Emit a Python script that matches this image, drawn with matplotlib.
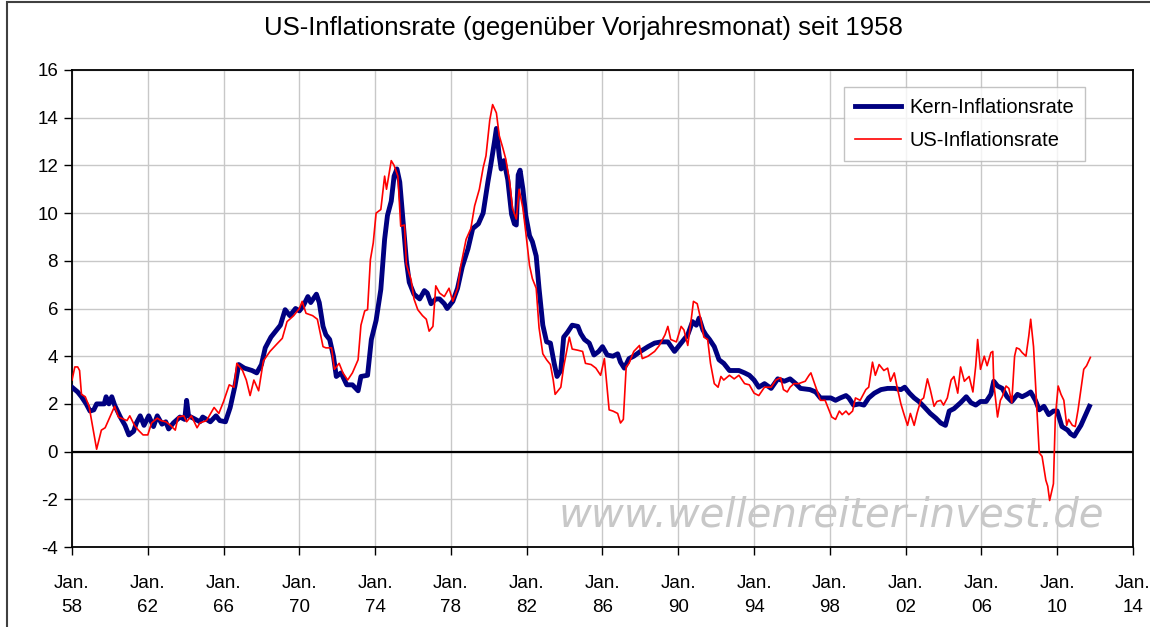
import matplotlib
matplotlib.use("Agg")
import matplotlib.pyplot as plt
from matplotlib.patches import Rectangle

plt.rcParams['font.family'] = ['Liberation Sans', 'DejaVu Sans']

# ---- data (decimal years, % yoy) ----
kern_t = [1958.0, 1958.15, 1958.3, 1958.5, 1958.75, 1958.95, 1959.15, 1959.3, 1959.7, 1959.8,
          1959.95, 1960.1, 1960.25, 1960.55, 1960.8, 1961.0, 1961.25, 1961.4, 1961.6, 1961.8,
          1962.05, 1962.3, 1962.5, 1962.75, 1962.95, 1963.1, 1963.35, 1963.7, 1963.95, 1964.05,
          1964.15, 1964.4, 1964.75, 1964.9, 1965.3, 1965.6, 1965.8, 1966.1, 1966.35, 1966.6,
          1966.8, 1967.1, 1967.5, 1967.75, 1968.0, 1968.2, 1968.5, 1968.8, 1969.0, 1969.25,
          1969.5, 1969.8, 1970.0, 1970.2, 1970.45, 1970.6, 1970.9, 1971.05, 1971.25, 1971.4,
          1971.6, 1971.8, 1971.95, 1972.2, 1972.5, 1972.8, 1973.1, 1973.25, 1973.6, 1973.8,
          1974.05, 1974.3, 1974.5, 1974.65, 1974.85, 1975.0, 1975.15, 1975.3, 1975.45, 1975.65,
          1975.8, 1976.05, 1976.35, 1976.6, 1976.75, 1976.95, 1977.2, 1977.4, 1977.65, 1977.8,
          1978.1, 1978.35, 1978.6, 1978.9, 1979.15, 1979.45, 1979.7, 1979.95, 1980.1, 1980.3,
          1980.4, 1980.55, 1980.65, 1980.8, 1981.0, 1981.2, 1981.35, 1981.45, 1981.55, 1981.65,
          1981.8, 1981.95, 1982.15, 1982.3, 1982.5, 1982.65, 1982.85, 1983.05, 1983.25, 1983.45,
          1983.6, 1983.8, 1983.95, 1984.15, 1984.4, 1984.7, 1984.85, 1985.05, 1985.3, 1985.55,
          1985.8, 1986.0, 1986.25, 1986.55, 1986.8, 1986.95, 1987.15, 1987.4, 1987.65, 1988.0,
          1988.4, 1988.75, 1989.1, 1989.45, 1989.8, 1990.15, 1990.5, 1990.75, 1990.95, 1991.1,
          1991.3, 1991.45, 1991.65, 1991.9, 1992.15, 1992.4, 1992.7, 1993.2, 1993.5, 1993.75,
          1994.0, 1994.25, 1994.55, 1994.9, 1995.25, 1995.6, 1995.9, 1996.2, 1996.45, 1996.95,
          1997.25, 1997.5, 1998.05, 1998.3, 1998.55, 1998.85, 1999.0, 1999.25, 1999.55, 1999.8,
          2000.05, 2000.35, 2000.7, 2001.05, 2001.4, 2001.75, 2001.95, 2002.2, 2002.45, 2002.7,
          2002.95, 2003.3, 2003.6, 2003.85, 2004.1, 2004.3, 2004.55, 2004.9, 2005.2, 2005.45,
          2005.7, 2005.95, 2006.25, 2006.5, 2006.65, 2006.85, 2007.1, 2007.35, 2007.6, 2007.9,
          2008.15, 2008.4, 2008.6, 2008.85, 2009.05, 2009.3, 2009.55, 2009.8, 2010.0, 2010.25,
          2010.55, 2010.7, 2010.9, 2011.05, 2011.25, 2011.5, 2011.7]
kern_v = [2.7, 2.6, 2.5, 2.3, 2.0, 1.7, 1.75, 2.0, 2.0, 2.3,
          2.0, 2.3, 1.95, 1.45, 1.1, 0.7, 0.85, 1.2, 1.5, 1.1,
          1.5, 1.05, 1.5, 1.15, 1.25, 0.95, 1.2, 1.45, 1.35, 2.15,
          1.5, 1.4, 1.25, 1.45, 1.25, 1.5, 1.3, 1.25, 1.85, 2.75,
          3.65, 3.5, 3.4, 3.3, 3.65, 4.35, 4.8, 5.1, 5.3, 5.95,
          5.7, 6.0, 5.9, 6.1, 6.5, 6.25, 6.6, 6.25, 5.25, 4.9,
          4.7, 4.0, 3.15, 3.3, 2.8, 2.8, 2.55, 3.15, 3.2, 4.7,
          5.5, 6.8, 8.9, 9.9, 10.5, 11.55, 11.85, 11.3, 9.9, 8.0,
          7.1, 6.6, 6.4, 6.75, 6.65, 6.2, 6.4, 6.4, 6.2, 6.0,
          6.3, 6.85, 7.75, 8.5, 9.35, 9.55, 10.0, 11.3, 12.0, 13.0,
          13.55, 12.4, 11.85, 12.2, 11.4, 9.95, 9.55, 9.5, 11.6, 11.8,
          11.0, 9.9, 9.05, 8.8, 8.2, 6.85, 5.3, 4.6, 4.55, 3.7,
          3.15, 3.4, 4.8, 5.0, 5.3, 5.25, 4.95, 4.7, 4.55, 4.05,
          4.2, 4.4, 4.05, 4.0, 4.1, 3.75, 3.5, 3.9, 4.0, 4.2,
          4.4, 4.55, 4.6, 4.6, 4.2, 4.55, 4.9, 5.45, 5.3, 5.6,
          5.1, 4.9, 4.7, 4.4, 3.85, 3.7, 3.4, 3.4, 3.3, 3.2,
          3.0, 2.7, 2.85, 2.65, 3.05, 2.95, 3.05, 2.85, 2.65, 2.6,
          2.5, 2.25, 2.25, 2.15, 2.25, 2.35, 2.25, 1.95, 2.0, 1.95,
          2.25, 2.45, 2.6, 2.65, 2.65, 2.6, 2.7, 2.45, 2.25, 2.1,
          1.9, 1.6, 1.4, 1.2, 1.1, 1.7, 1.8, 2.05, 2.3, 2.05,
          1.95, 2.1, 2.1, 2.4, 2.95, 2.75, 2.65, 2.3, 2.1, 2.4,
          2.3, 2.4, 2.5, 2.15, 1.75, 1.9, 1.55, 1.7, 1.7, 1.05,
          0.9, 0.75, 0.65, 0.85, 1.1, 1.55, 1.9]

cpi_t = [1958.0, 1958.15, 1958.3, 1958.4, 1958.5, 1958.7, 1958.9, 1959.1, 1959.3, 1959.55,
         1959.75, 1960.0, 1960.25, 1960.45, 1960.6, 1960.9, 1961.05, 1961.3, 1961.5, 1961.75,
         1962.0, 1962.2, 1962.5, 1962.7, 1962.95, 1963.2, 1963.45, 1963.6, 1963.9, 1964.05,
         1964.3, 1964.6, 1964.75, 1965.1, 1965.5, 1965.75, 1966.0, 1966.3, 1966.55, 1966.7,
         1967.0, 1967.2, 1967.4, 1967.6, 1967.85, 1968.1, 1968.45, 1968.8, 1969.1, 1969.35,
         1969.7, 1970.0, 1970.15, 1970.35, 1970.7, 1970.95, 1971.25, 1971.4, 1971.7, 1971.85,
         1972.1, 1972.3, 1972.55, 1972.8, 1973.1, 1973.25, 1973.45, 1973.6, 1973.75, 1973.9,
         1974.05, 1974.3, 1974.5, 1974.6, 1974.85, 1975.0, 1975.2, 1975.35, 1975.55, 1975.65,
         1975.9, 1976.05, 1976.25, 1976.5, 1976.7, 1976.85, 1977.05, 1977.2, 1977.4, 1977.65,
         1977.9, 1978.1, 1978.35, 1978.5, 1978.8, 1979.05, 1979.25, 1979.5, 1979.7, 1979.85,
         1980.05, 1980.2, 1980.4, 1980.55, 1980.75, 1980.9, 1981.1, 1981.25, 1981.45, 1981.6,
         1981.8, 1981.95, 1982.15, 1982.3, 1982.5, 1982.65, 1982.85, 1983.05, 1983.25, 1983.4,
         1983.5, 1983.8, 1983.95, 1984.25, 1984.4, 1984.7, 1984.95, 1985.1, 1985.4, 1985.65,
         1985.9, 1986.1, 1986.25, 1986.35, 1986.55, 1986.8, 1986.95, 1987.1, 1987.25, 1987.4,
         1987.65, 1987.95, 1988.1, 1988.4, 1988.75, 1989.0, 1989.3, 1989.45, 1989.6, 1989.9,
         1990.15, 1990.3, 1990.5, 1990.7, 1990.8, 1991.0, 1991.2, 1991.35, 1991.55, 1991.7,
         1991.9, 1992.1, 1992.25, 1992.4, 1992.7, 1992.95, 1993.2, 1993.5, 1993.75, 1994.0,
         1994.25, 1994.55, 1994.9, 1995.15, 1995.4, 1995.55, 1995.75, 1995.9, 1996.1, 1996.35,
         1996.7, 1996.9, 1997.0, 1997.15, 1997.35, 1997.5, 1997.75, 1997.95, 1998.1, 1998.3,
         1998.5, 1998.65, 1998.85, 1999.0, 1999.2, 1999.35, 1999.6, 1999.9, 2000.05, 2000.25,
         2000.4, 2000.6, 2000.85, 2001.05, 2001.2, 2001.4, 2001.55, 2001.75, 2001.9, 2002.1,
         2002.25, 2002.45, 2002.6, 2002.8, 2002.95, 2003.15, 2003.3, 2003.5, 2003.65, 2003.85,
         2004.0, 2004.2, 2004.4, 2004.55, 2004.75, 2004.9, 2005.1, 2005.35, 2005.55, 2005.7,
         2005.8, 2005.95, 2006.15, 2006.3, 2006.5, 2006.6, 2006.65, 2006.85, 2007.0, 2007.1,
         2007.3, 2007.45, 2007.6, 2007.75, 2007.85, 2008.0, 2008.15, 2008.35, 2008.5, 2008.6,
         2008.75, 2008.9, 2009.05, 2009.2, 2009.4, 2009.5, 2009.6, 2009.8, 2009.9, 2010.05,
         2010.2, 2010.35, 2010.5, 2010.6, 2010.8, 2010.95, 2011.1, 2011.25, 2011.4, 2011.55,
         2011.75]
cpi_v = [3.0, 3.55, 3.55, 3.4, 2.4, 2.3, 1.9, 1.0, 0.1, 0.9,
         1.0, 1.45, 1.9, 1.45, 1.4, 1.3, 1.5, 1.1, 0.9, 0.7,
         0.7, 1.2, 1.4, 1.3, 1.25, 1.1, 0.9, 1.45, 1.5, 1.25,
         1.5, 1.0, 1.2, 1.3, 1.85, 1.6, 2.1, 2.8, 2.7, 3.7,
         3.4, 3.0, 2.35, 3.0, 2.55, 3.8, 4.2, 4.5, 4.75, 5.45,
         5.7, 6.0, 6.3, 5.8, 5.7, 5.55, 4.4, 4.35, 4.35, 3.45,
         3.7, 3.3, 3.0, 3.3, 3.85, 5.3, 5.9, 5.95, 8.05, 8.75,
         10.0, 10.15, 11.55, 11.0, 12.2, 12.0, 11.55, 9.45, 9.5, 7.85,
         7.2, 6.4, 5.95, 5.7, 5.55, 5.05, 5.25, 6.95, 6.65, 6.5,
         6.85, 6.3, 6.85, 7.7, 8.9, 9.35, 10.3, 11.0, 11.9, 12.4,
         13.9, 14.55, 14.2, 13.25, 12.7, 12.25, 11.3, 10.2, 9.75, 11.0,
         10.2, 9.2, 7.8, 7.25, 6.85, 5.2, 4.1, 3.85, 3.65, 3.0,
         2.4, 2.7, 3.55, 4.8, 4.3, 4.25, 4.2, 3.7, 3.65, 3.5,
         3.2, 3.9, 2.6, 1.75, 1.7, 1.6, 1.2, 1.35, 3.55, 3.7,
         4.2, 4.45, 3.9, 4.0, 4.2, 4.45, 4.9, 5.25, 4.7, 4.6,
         5.25, 5.1, 4.45, 5.65, 6.3, 6.2, 5.5, 4.8, 4.7, 3.7,
         2.85, 2.7, 3.15, 3.0, 3.2, 3.05, 3.2, 2.85, 2.8, 2.45,
         2.35, 2.7, 2.7, 3.0, 3.1, 2.6, 2.5, 2.7, 2.85, 2.85,
         2.95, 3.2, 3.3, 2.95, 2.5, 2.15, 2.15, 1.75, 1.45, 1.35,
         1.7, 1.55, 1.7, 1.55, 1.7, 2.25, 2.15, 2.6, 2.7, 3.75,
         3.2, 3.65, 3.4, 3.5, 2.95, 3.3, 2.7, 2.0, 1.6, 1.1,
         1.6, 1.1, 1.6, 2.15, 2.25, 3.05, 2.6, 1.9, 2.1, 2.15,
         1.95, 2.25, 3.0, 3.15, 2.45, 3.55, 2.95, 3.15, 2.5, 3.6,
         4.7, 3.45, 4.0, 3.6, 4.15, 4.2, 2.9, 1.45, 2.15, 2.3,
         2.75, 2.65, 2.05, 4.0, 4.35, 4.3, 4.15, 4.0, 4.85, 5.55,
         4.4, 2.15, -0.05, -0.2, -1.2, -1.45, -2.05, -1.35, 1.45, 2.75,
         2.4, 2.15, 1.1, 1.35, 1.1, 1.05, 1.75, 2.6, 3.45, 3.6,
         3.95]

x_ticks = list(range(1958, 2015, 4))
x_labels = ["Jan.\n%02d" % (y % 100) for y in x_ticks]
y_ticks = list(range(-4, 17, 2))

title = "US-Inflationsrate (gegenüber Vorjahresmonat) seit 1958"
label_kern = "Kern-Inflationsrate"
label_cpi = "US-Inflationsrate"
watermark = "www.wellenreiter-invest.de"

# ---- figure ----
W, H = 1150, 627
fig = plt.figure(figsize=(W / 100, H / 100), dpi=100)
ax = fig.add_axes([72 / W, 1 - 547 / H, (1133 - 72) / W, (547 - 70) / H])

ax.plot(kern_t, kern_v, color="#000080", lw=3.5, label=label_kern, zorder=3,
        solid_joinstyle="round")
ax.plot(cpi_t, cpi_v, color="#ff0000", lw=1.2, label=label_cpi, zorder=4)
ax.axhline(0, color="black", lw=1.6, zorder=2)

ax.set_xlim(1958, 2014)
ax.set_ylim(-4, 16)
ax.set_xticks(x_ticks)
ax.set_xticklabels(x_labels, fontsize=13.5, linespacing=1.55)
ax.set_yticks(y_ticks)
ax.set_yticklabels([str(v) for v in y_ticks], fontsize=13.5)
ax.tick_params(axis="x", direction="out", length=6, width=1, pad=14)
ax.tick_params(axis="y", direction="out", length=6, width=1, pad=4)
ax.grid(True, color="#c8c8c8", lw=1.0, zorder=0)
ax.set_axisbelow(True)
for s in ax.spines.values():
    s.set_color("black")
    s.set_linewidth(1.3)

ax.text(0.716, 0.067, watermark, transform=ax.transAxes, ha="center", va="center",
        fontsize=29, style="italic", family="DejaVu Sans", color="#c8c8c8", zorder=1)

leg = ax.legend(loc="upper right", bbox_to_anchor=(0.9548, 0.9644), fontsize=14.5,
                frameon=True, fancybox=False, edgecolor="#b4b4b4", handlelength=2.3,
                labelspacing=0.7, borderpad=0.55, handletextpad=0.4, borderaxespad=0)
leg.get_frame().set_linewidth(1.0)

fig.text(583 / W, 1 - 28 / H, title, ha="center", va="center", fontsize=18.5)

# outer chart frame
fig.patches.append(Rectangle((7 / W, -0.1), 1.2, 1.1 - 2 / H, transform=fig.transFigure,
                             fill=False, edgecolor="#404040", lw=1.5))

fig.savefig("out.png", dpi=100)
